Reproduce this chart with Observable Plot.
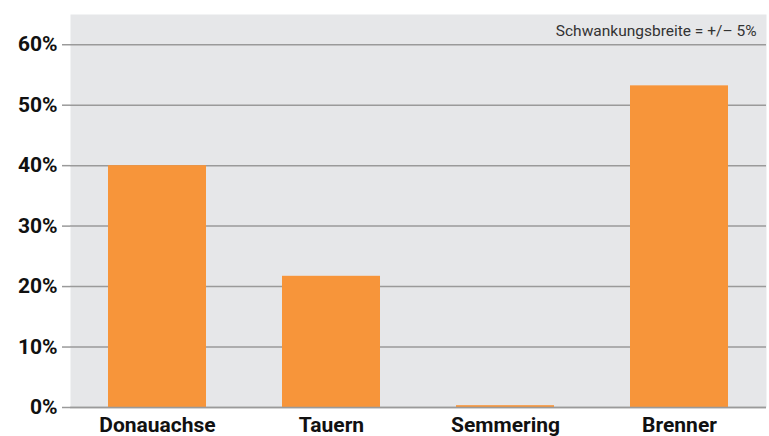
<!DOCTYPE html>
<html>
<head>
<meta charset="utf-8">
<script src="https://cdn.jsdelivr.net/npm/d3@7"></script>
<script src="https://cdn.jsdelivr.net/npm/@observablehq/plot@0.6"></script>
<style>
  html, body { margin: 0; padding: 0; background: #ffffff; }
</style>
</head>
<body>
<div id="chart"></div>
<script>
const categories = ["Donauachse", "Tauern", "Semmering", "Brenner"];
const shares = [40, 21.7, 0.3, 53.2];
const yTicks = [0, 10, 20, 30, 40, 50, 60];
const note = "Schwankungsbreite = +/– 5%";

const data = categories.map((c, i) => ({category: c, share: shares[i]}));

const chart = Plot.plot({
  width: 769,
  height: 436,
  marginLeft: 70,
  marginRight: 3,
  marginTop: 14,
  marginBottom: 29,
  style: {fontFamily: "Roboto, sans-serif", background: "#ffffff", color: "#111"},
  x: {domain: categories, paddingInner: 0.434, paddingOuter: 0.206},
  y: {domain: [0, 65]},
  marks: [
    Plot.frame({fill: "#e6e7e9", stroke: "none"}),
    Plot.ruleY(yTicks, {stroke: "#9a9a9a", strokeWidth: 1.5}),
    Plot.axisY(yTicks, {
      tickSize: 8, tickPadding: 5, stroke: "#9a9a9a", strokeWidth: 1.5, strokeOpacity: 1,
      tickFormat: d => d + "%", fontSize: 21, fontWeight: "bold", fill: "#111", label: null
    }),
    Plot.barY(data, {x: "category", y: "share", fill: "#f7953a"}),
    Plot.ruleY([0], {stroke: "#9a9a9a", strokeWidth: 1.5}),
    Plot.axisX({tickSize: 0, tickPadding: 10, fontSize: 21, fontWeight: "bold", fill: "#111", label: null}),
    Plot.text([note], {frameAnchor: "top-right", dx: -10, dy: 17, lineAnchor: "middle", textAnchor: "end", fontSize: 15.5, fill: "#333"})
  ]
});
document.getElementById("chart").appendChild(chart);
</script>
</body>
</html>
